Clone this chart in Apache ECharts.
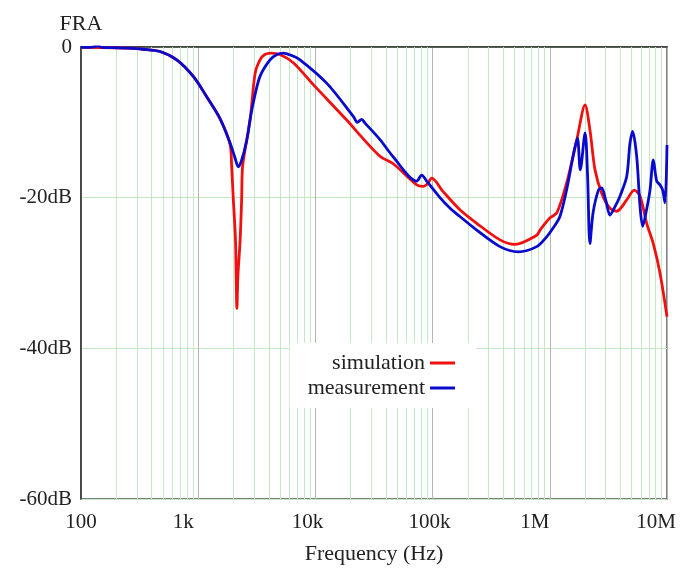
<!DOCTYPE html>
<html>
<head>
<meta charset="utf-8">
<script src="https://cdn.jsdelivr.net/npm/echarts@6/dist/echarts.min.js"></script>
<style>html,body{margin:0;padding:0;background:#fff}#c{width:682px;height:570px}</style>
</head>
<body>
<div id="c"></div>
<script>
// ---- data ----
const xTickLabels = {100:'100', 1000:'1k', 10000:'10k', 100000:'100k', 1000000:'1M', 10000000:'10M'};
const yTicks = [0, -20, -40, -60];

const simFreq = [100,200,250,338,472,656,908,1182,1535,1868,1930,1990,2080,2140,2180,2280,2350,2390,2770,3060,3370,3700,4180,4980,6480,9600,18500,24000,35600,46200,73200,83300,90000,98300,123000,171000,238000,376000,505000,773000,825000,1000000,1150000,1390000,1700000,2000000,2200000,2430000,2770000,3260000,3720000,4530000,5260000,5890000,6710000,7640000,8710000,10000000];
const simDb = [-0.05,-0.1,-0.15,-0.3,-0.6,-1.7,-3.9,-6.6,-9.5,-12.9,-15.9,-20.0,-25.6,-34.7,-30.5,-25.6,-20.0,-15.9,-9.7,-3.5,-1.7,-1.0,-0.8,-1.0,-2.1,-5.0,-9.7,-11.7,-14.5,-15.5,-18.3,-18.5,-18.2,-17.4,-19.2,-21.6,-23.4,-25.6,-26.2,-25.0,-24.3,-22.7,-22.0,-18.1,-12.3,-7.7,-11.0,-16.3,-19.4,-21.4,-21.8,-20.3,-19.0,-19.8,-23.4,-26.1,-30.0,-35.8];

const measFreq = [100,120,140,150,200,250,338,472,656,908,1182,1535,1868,2050,2198,2350,2594,2767,2951,3366,4100,4700,5300,6200,7390,12480,21050,22800,24800,26500,35600,46200,73200,80700,89100,115600,141000,171000,238000,376000,538000,773000,940000,1070000,1220000,1390000,1580000,1720000,1820000,2000000,2100000,2200000,2340000,2600000,2770000,3020000,3260000,3600000,3970000,4530000,4830000,5090000,5510000,5890000,6200000,6710000,7160000,7640000,8170000,8710000,9190000,9620000,10000000];
const measDb = [-0.05,-0.05,0.15,-0.05,-0.1,-0.15,-0.3,-0.6,-1.7,-3.9,-6.6,-9.5,-12.7,-14.6,-15.9,-15.0,-12.4,-9.7,-7.4,-3.9,-1.7,-1.0,-0.8,-1.1,-1.7,-4.8,-9.2,-10.0,-9.6,-10.1,-12.3,-14.6,-17.8,-17.0,-17.8,-20.0,-21.4,-22.5,-24.3,-26.5,-27.2,-26.5,-25.2,-24.0,-22.5,-19.0,-14.5,-12.1,-16.3,-11.4,-17.0,-26.1,-22.0,-19.0,-18.7,-20.5,-22.3,-21.2,-19.8,-17.2,-12.8,-11.2,-14.5,-21.2,-23.8,-21.5,-19.0,-15.0,-17.8,-18.3,-19.0,-20.7,-13.0];

const seriesNames = ['simulation', 'measurement'];

// minor log grid positions (2..9 in each decade)
const minorGrid = [];
for (let d = 100; d < 1e7; d *= 10) {
  for (let m = 2; m <= 9; m++) minorGrid.push(m * d);
}

const FONT = "'Liberation Serif', 'DejaVu Serif', serif";
const pair = (xs, ys) => xs.map((x, i) => [x, ys[i]]);

const chart = echarts.init(document.getElementById('c'), null, {renderer: 'canvas'});
chart.setOption({
  animation: false,
  backgroundColor: '#fff',
  grid: {left: 81, right: 15, top: 47, bottom: 71, show: true, borderColor: '#555', borderWidth: 1.5, backgroundColor: 'transparent'},
  legend: {
    data: seriesNames,
    orient: 'vertical',
    align: 'right',
    right: 206,
    top: 343,
    padding: [9, 21, 9, 18],
    itemGap: 3,
    itemWidth: 25,
    itemHeight: 3,
    icon: 'rect',
    backgroundColor: '#fff',
    textStyle: {fontSize: 22, fontFamily: FONT, color: '#222'}
  },
  xAxis: {
    type: 'log',
    logBase: 10,
    min: 100,
    max: 1e7,
    name: 'Frequency (Hz)',
    nameLocation: 'middle',
    nameGap: 44,
    nameTextStyle: {fontSize: 22, fontFamily: FONT, color: '#222'},
    axisLine: {show: true, lineStyle: {color: '#333', width: 1.5}},
    axisTick: {show: false},
    axisLabel: {
      fontSize: 21, fontFamily: FONT, color: '#222', margin: 13,
      formatter: function (v) {
        const t = xTickLabels[Math.round(v)] || '';
        const shift = {'100': '', '1k': 'a', '10k': 'b', '100k': 'c', '1M': 'a', '10M': 'd'}[t];
        return shift ? '{' + shift + '|' + t + '}' : t;
      },
      rich: {
        a: {fontSize: 21, fontFamily: FONT, color: '#222', padding: [0, 30, 0, 0]},
        b: {fontSize: 21, fontFamily: FONT, color: '#222', padding: [0, 16, 0, 0]},
        c: {fontSize: 21, fontFamily: FONT, color: '#222', padding: [0, 6, 0, 0]},
        d: {fontSize: 21, fontFamily: FONT, color: '#222', padding: [0, 22, 0, 0]}
      }
    },
    splitLine: {show: true, lineStyle: {color: '#b4b4b4', width: 1}}
  },
  yAxis: {
    type: 'value',
    min: -60,
    max: 0,
    interval: 20,
    name: 'FRA',
    nameLocation: 'end',
    nameGap: 12,
    nameTextStyle: {fontSize: 22, fontFamily: FONT, color: '#222', align: 'center'},
    axisLine: {show: true, lineStyle: {color: '#333', width: 1.5}},
    axisTick: {show: false},
    axisLabel: {
      fontSize: 21, fontFamily: FONT, color: '#222', margin: 9,
      formatter: function (v) { return v === 0 ? '0' : v + 'dB'; }
    },
    splitLine: {show: true, lineStyle: {color: '#c3e8c3', width: 1}}
  },
  series: [
    {
      name: '_grid', type: 'line', data: [], silent: true, z: 1,
      markLine: {
        silent: true, z: 1, symbol: ['none', 'none'], animation: false,
        label: {show: false},
        lineStyle: {color: '#c3e8c3', width: 1, type: 'solid'},
        emphasis: {disabled: true},
        data: minorGrid.map(v => ({xAxis: v}))
      }
    },
    {
      name: seriesNames[0], type: 'line', z: 3,
      data: pair(simFreq, simDb),
      showSymbol: false, symbol: 'none', smooth: 0.3,
      color: '#f01010',
      lineStyle: {color: '#f01010', width: 2.8}
    },
    {
      name: seriesNames[1], type: 'line', z: 4,
      data: pair(measFreq, measDb),
      showSymbol: false, symbol: 'none', smooth: 0.3,
      color: '#0a0acc',
      lineStyle: {color: '#0a0acc', width: 2.8}
    }
  ]
});
</script>
</body>
</html>
